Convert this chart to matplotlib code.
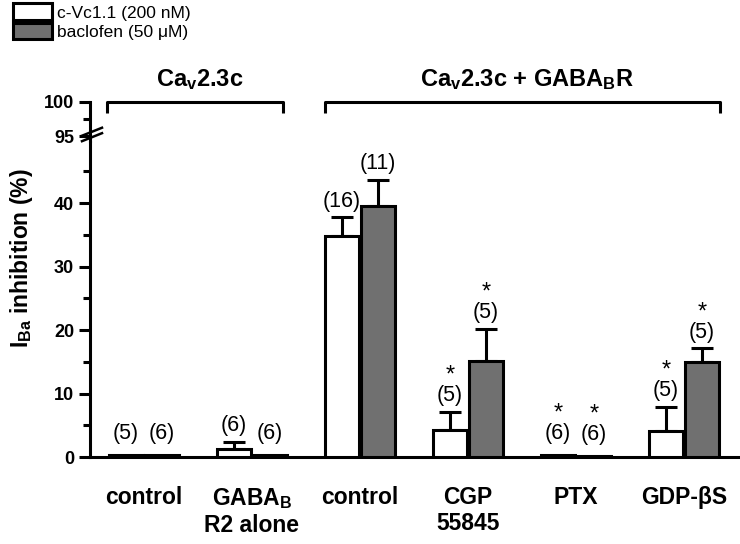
import matplotlib.pyplot as plt
from matplotlib.patches import Patch
import numpy as np

plt.rcParams['font.family'] = ['Liberation Sans', 'DejaVu Sans']
plt.rcParams['mathtext.fontset'] = 'custom'
plt.rcParams['mathtext.rm'] = 'Liberation Sans'
plt.rcParams['mathtext.bf'] = 'Liberation Sans:bold'
plt.rcParams['mathtext.it'] = 'Liberation Sans:italic'

groups = ['control', 'GABA$_\\mathbf{B}$\nR2 alone', 'control', 'CGP\n55845', 'PTX', 'GDP-βS']
vc_mean = [0.3, 1.3, 34.8, 4.2, 0.3, 4.1]
vc_err = [0, 1.1, 3.0, 2.9, 0, 3.8]
bac_mean = [0.3, 0.3, 39.5, 15.2, 0.2, 15.0]
bac_err = [0, 0, 4.2, 5.0, 0, 2.1]
vc_n = ['(5)', '(6)', '(16)', '(5)', '(6)', '(5)']
bac_n = ['(6)', '(6)', '(11)', '(5)', '(6)', '(5)']
vc_sig = [False, False, False, True, True, True]
bac_sig = [False, False, False, True, True, True]

grey = '#707070'
lw = 2.2
x = np.arange(len(groups))
w = 0.31

fig = plt.figure(figsize=(7.4, 5.44), dpi=100)
ax = fig.add_axes([90/740, 87/544, 648/740, 316/544])
axt = fig.add_axes([90/740, 403/544, 648/740, 39/544])

ax.bar(x - 0.165, vc_mean, w, color='white', edgecolor='black', linewidth=lw, zorder=3)
ax.bar(x + 0.165, bac_mean, w, color=grey, edgecolor='black', linewidth=lw, zorder=3)
for xs, m, e in [(x - 0.165, vc_mean, vc_err), (x + 0.165, bac_mean, bac_err)]:
    for xi, mi, ei in zip(xs, m, e):
        if ei > 0:
            ax.errorbar(xi, mi, yerr=[[0], [ei]], fmt='none', ecolor='black',
                        elinewidth=lw, capsize=8, capthick=lw, zorder=2)

for xs, m, e, n, s in [(x - 0.165, vc_mean, vc_err, vc_n, vc_sig),
                       (x + 0.165, bac_mean, bac_err, bac_n, bac_sig)]:
    for xi, mi, ei, ni, si in zip(xs, m, e, n, s):
        off = 4 if ei > 0 else 8
        ax.annotate(ni, (xi, mi + ei), xytext=(0, off), textcoords='offset points',
                    ha='center', va='bottom', fontsize=15.5)
        if si:
            ax.annotate('*', (xi, mi + ei), xytext=(0, off + 14), textcoords='offset points',
                        ha='center', va='bottom', fontsize=17)

ax.set_xlim(-0.5, 5.5)
ax.set_ylim(0, 49.8)
axt.set_xlim(-0.5, 5.5)
axt.set_ylim(94.3, 100)

for a in (ax, axt):
    a.spines['top'].set_visible(False)
    a.spines['right'].set_visible(False)
    a.spines['left'].set_linewidth(lw)
    a.tick_params(axis='y', which='major', length=8, width=lw, direction='out')
    a.tick_params(axis='y', which='minor', length=5, width=lw, direction='out')
axt.spines['bottom'].set_visible(False)
axt.set_xticks([])
ax.spines['bottom'].set_linewidth(lw)

ax.set_yticks([0, 10, 20, 30, 40])
ax.set_yticks([5, 15, 25, 35, 45], minor=True)
ax.set_yticklabels(['0', '10', '20', '30', '40'], fontweight='bold', fontsize=13)
axt.set_yticks([95, 100])
axt.set_yticks([97.5], minor=True)
axt.set_yticklabels(['95', '100'], fontweight='bold', fontsize=13)

ax.set_xticks(x)
ax.set_xticklabels(groups, fontweight='bold', fontsize=16.5, linespacing=1.15)
ax.tick_params(axis='x', length=0, pad=21)

# break marks on the y axis
for dy in (-0.004, 0.006):
    fig.add_artist(plt.Line2D([82/740, 102/740], [1 - 139/544 + dy, 1 - 131/544 + dy],
                              color='black', lw=1.8))

# brackets
axt.plot([-0.34, -0.34, 1.29, 1.29], [98.4, 100, 100, 98.4], color='black', lw=lw,
         clip_on=False, solid_capstyle='butt')
axt.plot([1.68, 1.68, 5.33, 5.33], [98.4, 100, 100, 98.4], color='black', lw=lw,
         clip_on=False, solid_capstyle='butt')
axt.text(0.52, 101.5, 'Ca$_\\mathbf{v}$2.3c', ha='center', va='bottom',
         fontsize=17, fontweight='bold')
axt.text(3.55, 101.5, 'Ca$_\\mathbf{v}$2.3c + GABA$_\\mathbf{B}$R', ha='center',
         va='bottom', fontsize=17, fontweight='bold')

fig.text(22/740, 1 - 258/544, 'I$_\\mathbf{Ba}$ inhibition (%)', rotation=90,
         ha='center', va='center', fontsize=16.5, fontweight='bold')

handles = [Patch(facecolor='white', edgecolor='black', linewidth=lw),
           Patch(facecolor=grey, edgecolor='black', linewidth=lw)]
fig.legend(handles, ['c-Vc1.1 (200 nM)', 'baclofen (50 μM)'], loc='upper left',
           bbox_to_anchor=(10/740, 1.0), frameon=False, fontsize=12.5,
           handlelength=2.2, handleheight=1.1, handletextpad=0.3,
           labelspacing=0.12, borderaxespad=0.1, borderpad=0.1)

fig.savefig('out.png', dpi=100)
